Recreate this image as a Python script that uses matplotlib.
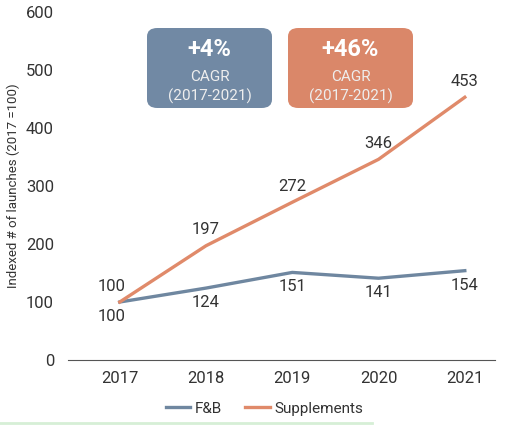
import matplotlib.pyplot as plt
from matplotlib.patches import FancyBboxPatch
from matplotlib.lines import Line2D

plt.rcParams['font.family'] = ['Roboto', 'DejaVu Sans']

years = [2017, 2018, 2019, 2020, 2021]
fnb = [100, 124, 151, 141, 154]
supplements = [100, 197, 272, 346, 453]
cagr_labels = ["+4%", "+46%"]

blue = "#6f87a0"
orange = "#e08a6a"
box_blue = "#7189a4"
box_orange = "#da8769"
text_c = "#333333"

fig = plt.figure(figsize=(5.17, 4.26), dpi=100)
ax = fig.add_axes([68/517, 66/426, (495-68)/517, (360-12)/426])

ax.plot(years, fnb, color=blue, lw=2.4, label="F&B")
ax.plot(years, supplements, color=orange, lw=2.4, label="Supplements")

ax.set_xlim(2016.4, 2021.35)
ax.set_ylim(0, 600)
ax.set_xticks(years)
ax.set_yticks(range(0, 700, 100))
for s in ["top", "right", "left"]:
    ax.spines[s].set_visible(False)
ax.spines["bottom"].set_color("#555555")
ax.tick_params(length=0, labelsize=12, colors=text_c, pad=10)
ax.tick_params(axis="x", pad=8)
ax.set_ylabel("Indexed # of launches (2017 =100)", fontsize=9.5, color=text_c, labelpad=4)

for i, (x, v) in enumerate(zip(years, supplements)):
    dx = -6 if i == 0 else 0
    ax.annotate(str(v), (x, v), xytext=(dx, 6), textcoords="offset points",
                ha="center", va="bottom", fontsize=12, color=text_c)
for i, (x, v) in enumerate(zip(years, fnb)):
    dx = -6 if i == 0 else 0
    ax.annotate(str(v), (x, v), xytext=(dx, -5), textcoords="offset points",
                ha="center", va="top", fontsize=12, color=text_c)

# CAGR boxes
for x0, col, lab in [(147, box_blue, cagr_labels[0]), (288, box_orange, cagr_labels[1])]:
    w, h = 125, 80
    y0 = 426 - 108
    box = FancyBboxPatch((x0/517, y0/426), w/517, h/426,
                         boxstyle="round,pad=0,rounding_size=0.02",
                         transform=fig.transFigure, facecolor=col, edgecolor="none")
    fig.patches.append(box)
    cx = (x0 + w/2) / 517
    fig.text(cx, (426-50)/426, lab, ha="center", va="center", fontsize=17,
             fontweight="bold", color="white")
    fig.text(cx, (426-77)/426, "CAGR", ha="center", va="center", fontsize=11, color="#eeeeee")
    fig.text(cx, (426-96)/426, "(2017-2021)", ha="center", va="center", fontsize=11, color="#eeeeee")

ax.legend(loc="upper center", bbox_to_anchor=(0.46, -0.08), ncol=2, frameon=False,
          fontsize=11, handlelength=1.6, handletextpad=0.3, columnspacing=1.5,
          labelcolor=text_c)

fig.add_artist(Line2D([0, 372/517], [3/426, 3/426], color="#d6efd6", lw=2,
                      transform=fig.transFigure))

fig.savefig("out.png", dpi=100)
